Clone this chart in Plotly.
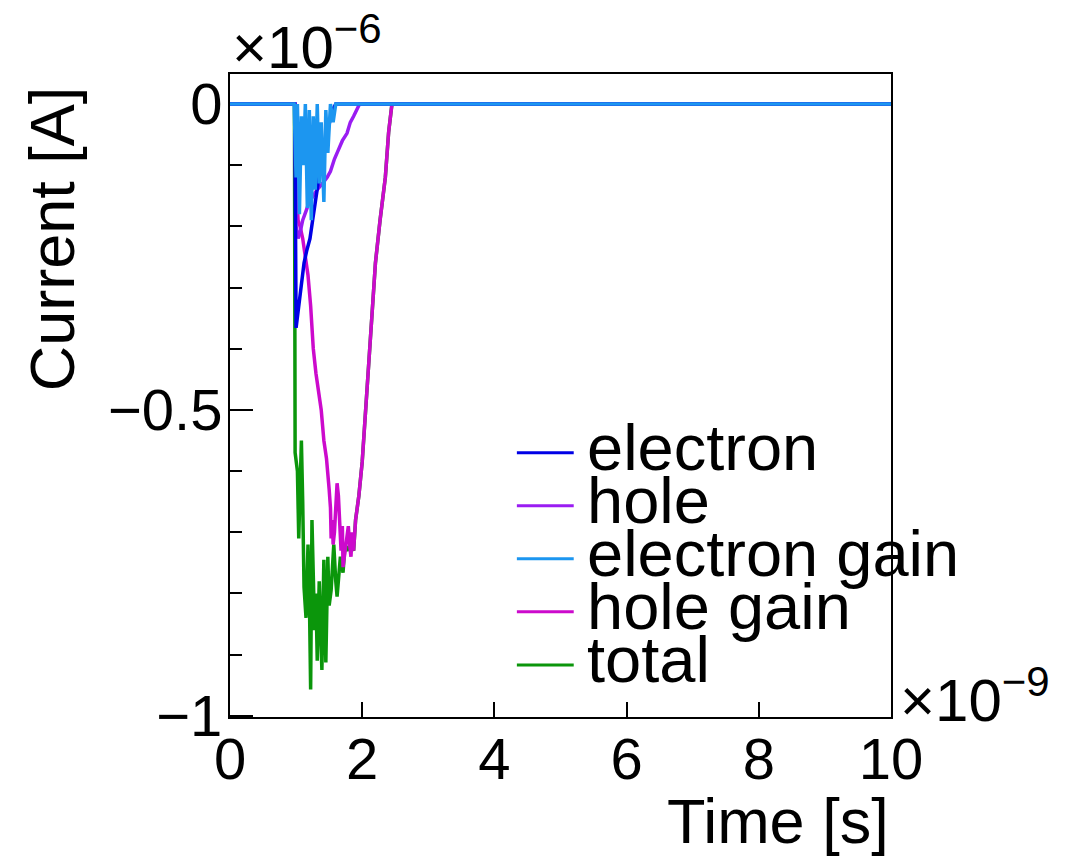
import plotly.graph_objects as go

# Time in units of 1e-9 s, current in units of 1e-6 A
t_electron = [0, 0.98, 1.0, 1.02, 1.04, 1.07, 1.09, 1.12, 1.16, 1.21, 1.25, 1.3, 1.36, 1.42, 1.48, 1.55, 1.6, 10]
i_electron = [0, 0, -0.366, -0.35, -0.33, -0.3, -0.29, -0.26, -0.24, -0.22, -0.19, -0.15, -0.11, -0.07, -0.04, -0.01, 0, 0]

t_hole = [0, 0.98, 1.0, 1.03, 1.06, 1.1, 1.15, 1.2, 1.26, 1.32, 1.4, 1.47, 1.52, 1.58, 1.64, 1.7, 1.77, 1.82, 1.87, 1.92, 1.96, 10]
i_hole = [0, 0, -0.2, -0.22, -0.21, -0.19, -0.175, -0.16, -0.15, -0.14, -0.13, -0.12, -0.11, -0.09, -0.075, -0.06, -0.048, -0.03, -0.02, -0.008, 0, 0]

t_egain = [0, 0.97, 1.0, 1.02, 1.05, 1.08, 1.11, 1.14, 1.17, 1.2, 1.23, 1.26, 1.29, 1.32, 1.35, 1.38, 1.42, 1.45, 1.48, 1.52, 1.56, 1.6, 10]
i_egain = [0, 0, -0.12, 0, -0.18, -0.02, -0.1, 0, -0.17, -0.01, -0.19, -0.02, -0.14, 0, -0.13, -0.03, -0.16, -0.01, -0.08, 0, -0.03, 0, 0]

t_hgain = [0, 0.98, 1.0, 1.03, 1.06, 1.1, 1.14, 1.18, 1.22, 1.26, 1.3, 1.34, 1.38, 1.42, 1.46, 1.5, 1.52, 1.53, 1.55,
           1.56, 1.58, 1.6, 1.62, 1.64, 1.66, 1.68, 1.7, 1.71, 1.73, 1.75, 1.77, 1.79, 1.81, 1.83, 1.85, 1.87, 1.9,
           1.95, 2.0, 2.04, 2.07, 2.11, 2.15, 2.2, 2.27, 2.31, 2.35, 2.4, 2.45, 10]
i_hgain = [0, 0, -0.12, -0.19, -0.2, -0.22, -0.25, -0.28, -0.33, -0.4, -0.44, -0.47, -0.5, -0.55, -0.58, -0.63, -0.66, -0.71, -0.68,
           -0.72, -0.7, -0.66, -0.62, -0.64, -0.7, -0.73, -0.69, -0.757, -0.74, -0.72, -0.7, -0.69, -0.72, -0.74, -0.7, -0.73, -0.68,
           -0.64, -0.585, -0.52, -0.46, -0.4, -0.34, -0.26, -0.19, -0.15, -0.12, -0.046, 0, 0]

t_total = [0, 0.975, 0.985, 1.0, 1.02, 1.04, 1.06, 1.08, 1.1, 1.12, 1.15, 1.18, 1.2, 1.22, 1.24, 1.26, 1.28, 1.3, 1.32,
           1.35, 1.37, 1.39, 1.42, 1.45, 1.48, 1.5, 1.53, 1.57, 1.6, 1.62, 1.67, 1.71, 1.74, 1.77, 1.82, 1.87,
           1.9, 1.95, 2.0, 2.04, 2.07, 2.11, 2.15, 2.2, 2.27, 2.31, 2.35, 2.4, 2.45, 10]
i_total = [0, 0, -0.57, -0.59, -0.6, -0.71, -0.62, -0.55, -0.65, -0.79, -0.84, -0.72, -0.8, -0.957, -0.68, -0.78, -0.86, -0.8, -0.91,
           -0.78, -0.88, -0.925, -0.745, -0.913, -0.74, -0.82, -0.795, -0.72, -0.78, -0.805, -0.74, -0.766, -0.72, -0.73, -0.72, -0.73,
           -0.68, -0.64, -0.585, -0.52, -0.46, -0.4, -0.34, -0.26, -0.19, -0.15, -0.12, -0.046, 0, 0]

series_names = ["electron", "hole", "electron gain", "hole gain", "total"]
series_colors = {
    "electron": "#0000e6",
    "hole": "#9a1cf2",
    "electron gain": "#1c96f0",
    "hole gain": "#cc0acc",
    "total": "#0b960b",
}
series_data = {
    "electron": (t_electron, i_electron),
    "hole": (t_hole, i_hole),
    "electron gain": (t_egain, i_egain),
    "hole gain": (t_hgain, i_hgain),
    "total": (t_total, i_total),
}

FONT = "Liberation Sans, Arial, Helvetica, sans-serif"

fig = go.Figure()
# total underneath, electron gain on top
for name in ["total", "hole gain", "hole", "electron", "electron gain"]:
    x, y = series_data[name]
    fig.add_trace(go.Scatter(
        x=x, y=y, mode="lines", name=name,
        line=dict(color=series_colors[name], width=3.5),
        showlegend=False,
    ))

x_range = [0, 10]
y_range = [-1.002, 0.049]

fig.update_layout(
    width=1074, height=857,
    margin=dict(l=230, r=183, t=74, b=140),
    paper_bgcolor="white", plot_bgcolor="white",
    font=dict(family=FONT, color="black"),
    xaxis=dict(
        range=x_range, tickvals=[0, 2, 4, 6, 8, 10], ticktext=["0", "2", "4", "6", "8", "10"],
        ticks="inside", ticklen=15, tickwidth=1.5, tickcolor="black",
        showline=True, linecolor="black", linewidth=2, mirror=True,
        showgrid=False, zeroline=False, layer="below traces",
        ticklabelstandoff=-10,
        tickfont=dict(size=58, family=FONT, color="black"),
    ),
    yaxis=dict(
        range=y_range, tickvals=[0, -0.5, -1], ticktext=["0", "\u22120.5", "\u22121"],
        ticks="inside", ticklen=23, tickwidth=1.5, tickcolor="black",
        minor=dict(dtick=0.1, tick0=0, ticks="inside", ticklen=12, tickwidth=1.5, tickcolor="black"),
        showline=True, linecolor="black", linewidth=2, mirror=True,
        showgrid=False, zeroline=False, layer="below traces",
        ticklabelstandoff=-6,
        tickfont=dict(size=58, family=FONT, color="black"),
    ),
)

# axis titles and exponent labels
fig.add_annotation(text="Current [A]", xref="paper", yref="paper", x=-0.27, y=0.984,
                   xanchor="center", yanchor="top", textangle=-90, showarrow=False,
                   font=dict(size=63, family=FONT, color="black"))
fig.add_annotation(text="Time [s]", xref="paper", yref="paper", x=1.0, y=-0.104,
                   xanchor="right", yanchor="top", showarrow=False,
                   font=dict(size=63, family=FONT, color="black"))
fig.add_annotation(text="\u00d710<sup>\u22126</sup>", xref="paper", yref="paper", x=0.0, y=0.986,
                   xanchor="left", yanchor="bottom", showarrow=False,
                   font=dict(size=60, family=FONT, color="black"))
fig.add_annotation(text="\u00d710<sup>\u22129</sup>", xref="paper", yref="paper", x=1.01, y=-0.03,
                   xanchor="left", yanchor="bottom", showarrow=False,
                   font=dict(size=60, family=FONT, color="black"))

# legend: sample line + label per series
leg_x0, leg_x1, leg_text_x = 0.434, 0.52, 0.537
leg_y_top, leg_dy = 0.411, 0.0825
for k, name in enumerate(series_names):
    yy = leg_y_top - k * leg_dy
    fig.add_shape(type="line", xref="paper", yref="paper", x0=leg_x0, x1=leg_x1, y0=yy, y1=yy,
                  line=dict(color=series_colors[name], width=3))
    fig.add_annotation(text=name, xref="paper", yref="paper", x=leg_text_x, y=yy + 0.008,
                       xanchor="left", yanchor="middle", showarrow=False,
                       font=dict(size=65, family=FONT, color="black"))

fig.write_html("out.html")
